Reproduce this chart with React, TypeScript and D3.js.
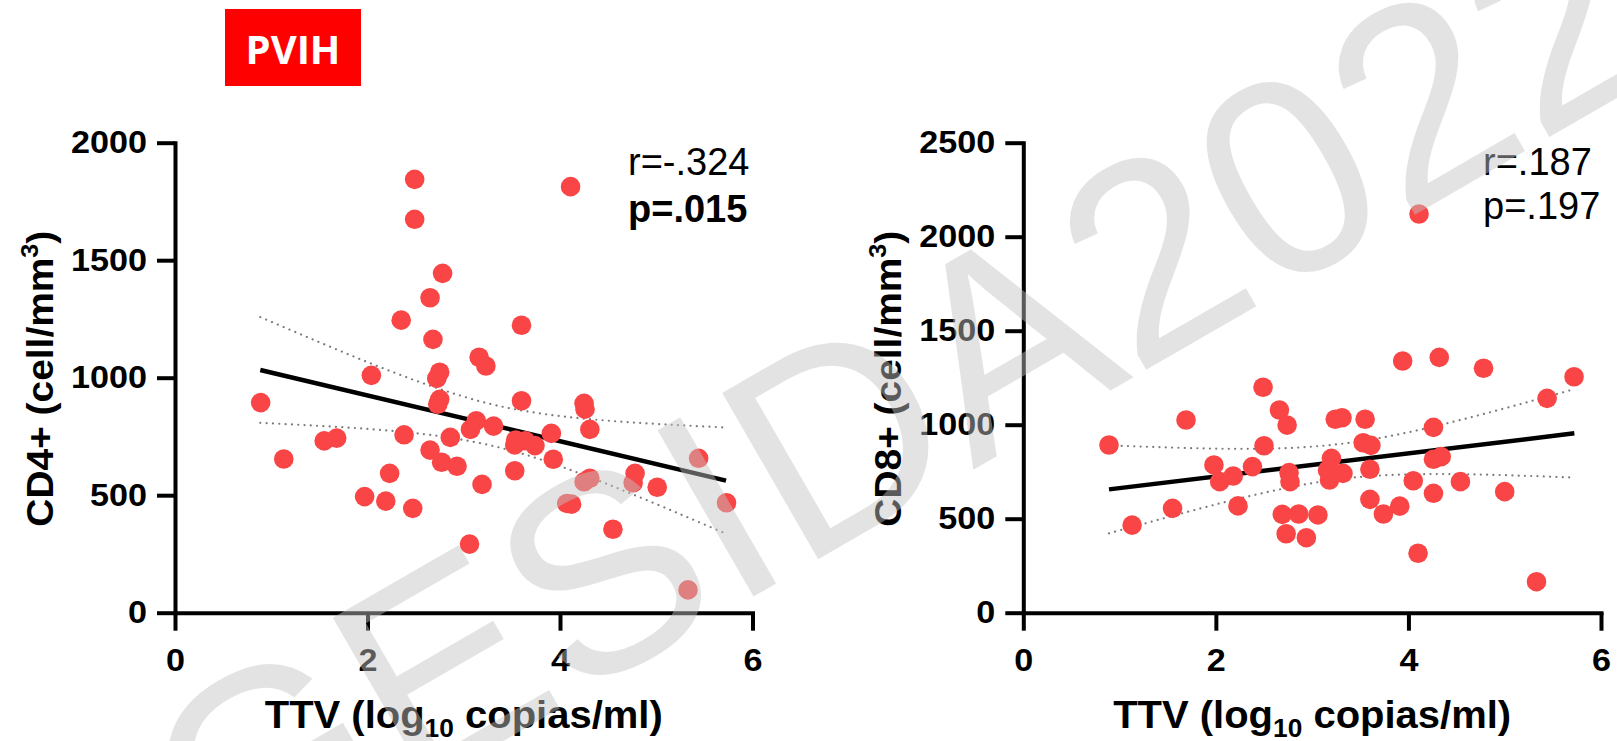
import React, { useEffect, useRef } from "react";
import * as d3 from "d3";

// ---------- data ----------
const xTickValues = [0, 2, 4, 6];
const cd4TickValues = [0, 500, 1000, 1500, 2000];
const cd8TickValues = [0, 500, 1000, 1500, 2000, 2500];

const cd4X = [2.49, 2.49, 2.78, 2.65, 2.35, 2.68, 3.16, 3.23, 2.04, 2.75, 2.72, 2.75, 2.73, 0.89, 3.13, 3.07, 3.31, 1.55, 1.68, 2.38, 2.86, 2.65, 2.77, 2.93, 1.13, 2.23, 3.19, 1.97, 2.19, 2.47, 3.06, 4.11, 3.6, 3.6, 4.25, 4.26, 4.31, 3.91, 3.54, 3.64, 3.74, 3.53, 3.93, 3.53, 5.44, 4.78, 4.76, 4.31, 4.25, 5.01, 4.07, 4.12, 5.73, 4.55, 5.33];
const cd4Y = [1844, 1674, 1444, 1340, 1245, 1163, 1087, 1050, 1010, 1023, 997, 908, 887, 894, 817, 780, 794, 731, 743, 757, 746, 692, 640, 623, 654, 593, 546, 494, 475, 444, 292, 1813, 1223, 902, 891, 866, 780, 763, 735, 732, 711, 714, 653, 604, 657, 593, 553, 572, 557, 534, 465, 462, 468, 355, 97];

const cd8X = [0.89, 1.13, 1.55, 1.69, 1.98, 2.04, 2.18, 2.23, 2.38, 2.49, 2.5, 2.66, 2.74, 2.76, 2.77, 2.69, 2.86, 2.73, 2.94, 3.06, 4.11, 3.94, 4.32, 4.78, 5.72, 5.44, 3.24, 3.31, 3.55, 4.26, 3.53, 3.61, 3.2, 4.26, 4.34, 3.32, 3.6, 3.18, 4.05, 4.54, 4.26, 5.0, 3.6, 3.91, 3.74, 4.1, 5.33, 3.16];
const cd8Y = [892, 466, 555, 1025, 786, 697, 727, 568, 777, 1199, 888, 1078, 998, 745, 697, 523, 525, 420, 399, 520, 2121, 1339, 1358, 1300, 1255, 1140, 1029, 1037, 1029, 986, 904, 890, 821, 816, 830, 741, 763, 706, 702, 697, 635, 644, 603, 567, 525, 316, 165, 758];

const cd4FitX = [0.886, 5.725];
const cd4FitY = [1033, 562];
const cd4BandX = [0.886, 1.5, 2.1, 2.7, 3.3, 3.9, 4.5, 5.1, 5.725];
const cd4Upper = [1258, 1151, 1050, 959, 886, 842, 817, 801, 788];
const cd4Lower = [808, 795, 779, 754, 710, 638, 546, 445, 336];

const cd8FitX = [0.89, 5.723];
const cd8FitY = [656, 954];
const cd8BandX = [0.89, 1.5, 2.1, 2.7, 3.3, 3.9, 4.5, 5.1, 5.723];
const cd8Upper = [890, 879, 872, 875, 898, 949, 1020, 1101, 1189];
const cd8Lower = [422, 508, 589, 660, 712, 734, 737, 730, 719];

const cd4Stats = ["r=-.324", "p=.015"];
const cd8Stats = ["r=.187", "p=.197"];
const cd4Label = "CD4+";
const cd8Label = "CD8+";
const xLabelMain = "TTV (log";
const xLabelSub = "10";
const xLabelEnd = " copias/ml)";
const groupLabel = "PVIH";
const watermark = "GESIDA2022";

// ---------- layout ----------
const W = 1617;
const H = 741;
const FONT = "'Liberation Sans', Arial, sans-serif";
const POINT = "#f94545";

type Panel = {
  left: number;
  right: number;
  yMax: number;
  yTicks: number[];
  xs: number[];
  ys: number[];
  fitX: number[];
  fitY: number[];
  bandX: number[];
  upper: number[];
  lower: number[];
  stats: string[];
  pBold: boolean;
  statsX: number;
  pY: number;
  yLabel: string;
  yLabelX: number;
};

const panels: Panel[] = [
  {
    left: 175, right: 752.5, yMax: 2000, yTicks: cd4TickValues,
    xs: cd4X, ys: cd4Y, fitX: cd4FitX, fitY: cd4FitY,
    bandX: cd4BandX, upper: cd4Upper, lower: cd4Lower,
    stats: cd4Stats, pBold: true, statsX: 628, pY: 221.5, yLabel: cd4Label, yLabelX: 53,
  },
  {
    left: 1023.3, right: 1601, yMax: 2500, yTicks: cd8TickValues,
    xs: cd8X, ys: cd8Y, fitX: cd8FitX, fitY: cd8FitY,
    bandX: cd8BandX, upper: cd8Upper, lower: cd8Lower,
    stats: cd8Stats, pBold: false, statsX: 1483, pY: 218.5, yLabel: cd8Label, yLabelX: 901,
  },
];

const Y0 = 612.7;
const Y1 = 142.7;

function drawPanel(svg: d3.Selection<SVGSVGElement, unknown, null, undefined>, p: Panel) {
  const x = d3.scaleLinear().domain([0, 6]).range([p.left, p.right]);
  const y = d3.scaleLinear().domain([0, p.yMax]).range([Y0, Y1]);
  const g = svg.append("g");

  const curve = d3
    .line<[number, number]>()
    .x((d) => x(d[0]))
    .y((d) => y(d[1]))
    .curve(d3.curveNatural);

  [p.upper, p.lower].forEach((band) => {
    g.append("path")
      .attr("d", curve(d3.zip(p.bandX, band) as [number, number][]))
      .attr("fill", "none")
      .attr("stroke", "#7a7a7a")
      .attr("stroke-width", 2.2)
      .attr("stroke-linecap", "round")
      .attr("stroke-dasharray", "0.01 6.3");
  });

  g.append("path")
    .attr("d", d3.line<[number, number]>().x((d) => x(d[0])).y((d) => y(d[1]))(d3.zip(p.fitX, p.fitY) as [number, number][]))
    .attr("stroke", "#000")
    .attr("stroke-width", 4.5)
    .attr("fill", "none");

  g.append("g")
    .selectAll("circle")
    .data(d3.zip(p.xs, p.ys))
    .join("circle")
    .attr("cx", (d) => x(d[0]))
    .attr("cy", (d) => y(d[1]))
    .attr("r", 9.8)
    .attr("fill", POINT);

  const styleAxis = (a: d3.Selection<SVGGElement, unknown, null, undefined>) => {
    a.select(".domain").attr("stroke-width", 4).attr("stroke-linecap", "square");
    a.selectAll(".tick line").attr("stroke-width", 4);
    a.selectAll(".tick text")
      .attr("font-family", FONT)
      .attr("font-weight", "bold")
      .attr("font-size", 32)
      .attr("fill", "#000")
      .attr("textLength", (d: any) => String(d).length * 19)
      .attr("lengthAdjust", "spacingAndGlyphs");
  };

  const ya = g
    .append("g")
    .attr("transform", `translate(${p.left},0)`)
    .call(d3.axisLeft(y).tickValues(p.yTicks).tickSize(18).tickSizeOuter(0).tickPadding(10).tickFormat(d3.format("d")));
  styleAxis(ya);

  const xa = g
    .append("g")
    .attr("transform", `translate(0,${Y0})`)
    .call(d3.axisBottom(x).tickValues(xTickValues).tickSize(18).tickSizeOuter(0).tickPadding(18).tickFormat(d3.format("d")));
  styleAxis(xa);

  // y label
  const yl = g
    .append("text")
    .attr("transform", `translate(${p.yLabelX},${(Y0 + Y1) / 2 + 1}) rotate(-90)`)
    .attr("text-anchor", "middle")
    .attr("font-family", FONT)
    .attr("font-weight", "bold")
    .attr("font-size", 37)
    .attr("textLength", 296)
    .attr("lengthAdjust", "spacingAndGlyphs")
    .attr("fill", "#000");
  yl.append("tspan").text(`${p.yLabel} (cell/mm`);
  yl.append("tspan").attr("font-size", 24).attr("dy", -15).text("3");
  yl.append("tspan").attr("dy", 15).text(")");

  // x label
  const xl = g
    .append("text")
    .attr("x", (p.left + p.right) / 2)
    .attr("y", 728)
    .attr("text-anchor", "middle")
    .attr("font-family", FONT)
    .attr("font-weight", "bold")
    .attr("font-size", 38)
    .attr("textLength", 398)
    .attr("lengthAdjust", "spacingAndGlyphs")
    .attr("fill", "#000");
  xl.append("tspan").text(xLabelMain);
  xl.append("tspan").attr("font-size", 25).attr("dy", 9).text(xLabelSub);
  xl.append("tspan").attr("dy", -9).text(xLabelEnd);

  // stats
  g.append("text")
    .attr("x", p.statsX)
    .attr("y", 175)
    .attr("font-family", FONT)
    .attr("font-size", 38)
    .attr("fill", "#000")
    .text(p.stats[0]);
  g.append("text")
    .attr("x", p.statsX)
    .attr("y", p.pY)
    .attr("font-family", FONT)
    .attr("font-weight", p.pBold ? "bold" : "normal")
    .attr("font-size", 38)
    .attr("fill", "#000")
    .text(p.stats[1]);
}

export default function App() {
  const ref = useRef<SVGSVGElement>(null);
  useEffect(() => {
    if (!ref.current) return;
    const svg = d3.select(ref.current);
    svg.selectAll("*").remove();
    svg.append("rect").attr("width", W).attr("height", H).attr("fill", "#fff");

    // group label
    svg.append("rect").attr("x", 225).attr("y", 9).attr("width", 136).attr("height", 77).attr("fill", "#ff0000");
    svg.append("text")
      .attr("x", 293)
      .attr("y", 64)
      .attr("text-anchor", "middle")
      .attr("font-family", "'Open Sans', sans-serif")
      .attr("font-weight", "bold")
      .attr("font-size", 40)
      .attr("fill", "#fff")
      .text(groupLabel);

    panels.forEach((p) => drawPanel(svg, p));

    // watermark
    svg.append("text")
      .attr("transform", "translate(221,904) rotate(-30)")
      .attr("font-family", FONT)
      .attr("font-size", 279)
      .attr("fill", "#c4c4c4")
      .attr("opacity", 0.46)
      .text(watermark);
  }, []);

  return (
    <svg
      ref={ref}
      width={W}
      height={H}
      style={{ position: "absolute", left: 0, top: 0, display: "block" }}
    />
  );
}
